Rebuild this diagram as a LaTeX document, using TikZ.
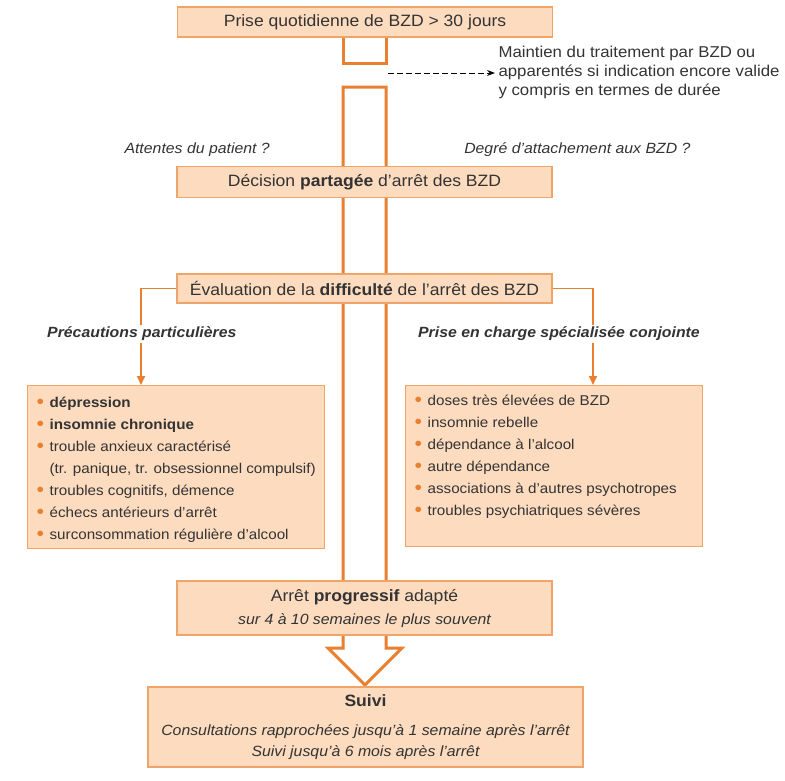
\documentclass[tikz,border=0pt]{standalone}
\usepackage{fontspec}
\setmainfont{Liberation Sans}[FakeStretch=1.07]
\usetikzlibrary{arrows.meta,positioning,calc}
\definecolor{bzdfill}{HTML}{FCDBBF}
\definecolor{bzdedge}{HTML}{F0A467}
\definecolor{bzdarrow}{HTML}{E8802F}
\definecolor{bzdtext}{HTML}{333333}
\newcommand{\puce}{\makebox[13pt][l]{\textcolor{bzdarrow}{\raisebox{-1pt}{\fontsize{20}{0}\selectfont\textbullet}}}}
\newcommand{\detail}[1]{{\fontsize{14.8}{18}\selectfont\itshape #1}}

\begin{document}
\begin{tikzpicture}[
    x=1pt,
    y=-1pt,
    stepbox/.style={
        rectangle,
        minimum width=375pt,
        inner sep=0pt,
        align=center,
        font=\fontsize{16.4}{20}\selectfont,
        text=bzdtext,
        fill=bzdfill,
        draw=bzdedge,
        line width=1.3pt
    },
    listbox/.style={
        rectangle,
        anchor=north west,
        minimum width=297pt,
        inner xsep=9pt,
        inner ysep=0pt,
        font=\fontsize{14.2}{22}\selectfont,
        text=bzdtext,
        fill=bzdfill,
        draw=bzdedge,
        line width=1.3pt
    },
    shaft/.style={
        draw=bzdarrow,
        line width=3pt,
        line join=miter
    },
    branch/.style={
        -{Triangle[length=9pt,width=8pt]},
        line width=1.8pt,
        draw=bzdarrow
    },
    note/.style={
        align=left,
        font=\fontsize{15.7}{19}\selectfont,
        text=bzdtext
    },
    question/.style={
        font=\fontsize{14.8}{18}\selectfont\itshape,
        text=bzdtext
    },
    branchlabel/.style={
        font=\fontsize{14.8}{18}\selectfont\bfseries\itshape,
        text=bzdtext,
        fill=white,
        inner sep=2pt
    }
]
\useasboundingbox (0,0) rectangle (785,780);

% Big orange arrow behind the boxes
\draw[shaft] (343,37) -- (343,63) -- (386,63) -- (386,37);
\draw[shaft] (343,648) -- (343,87) -- (386,87) -- (386,648)
    -- (402,648) -- (365,685) -- (328,648) -- cycle;

% Start
\node[stepbox, minimum height=30pt] (prise) at (365,22) {Prise quotidienne de BZD > 30 jours};

% Side note
\coordinate (dashstart) at (388,73);
\node[note, anchor=west] (maintien) at (495,72) {Maintien du traitement par BZD ou\\apparentés si indication encore valide\\y compris en termes de durée};
\draw[dashed, line width=1pt, dash pattern=on 6pt off 3pt, -{Stealth[length=8pt,width=6pt]}] (dashstart) -- (maintien.west |- dashstart);

% Questions
\node[question, anchor=west] (attentes) at (121,150) {Attentes du patient ?};
\node[question, anchor=east] (attachement) at (694,150) {Degré d’attachement aux BZD ?};

% Decision and evaluation
\node[stepbox, minimum height=31pt] (decision) at (364.5,182) {Décision \textbf{partagée} d’arrêt des BZD};
\node[stepbox, minimum height=29pt] (evaluation) at (364.5,288.5) {Évaluation de la \textbf{difficulté} de l’arrêt des BZD};

% Two branches
\node[listbox, minimum height=163pt] (precautions) at (27,385) {\parbox[t][141pt][t]{279pt}{%
\puce\textbf{dépression}\\
\puce\textbf{insomnie chronique}\\
\puce trouble anxieux caractérisé\\
\hspace*{13pt}(tr. panique, tr. obsessionnel compulsif)\\
\puce troubles cognitifs, démence\\
\puce échecs antérieurs d’arrêt\\
\puce surconsommation régulière d’alcool}};

\node[listbox, minimum height=161pt] (specialisee) at (405,385) {\parbox[t][143pt][t]{279pt}{%
\puce doses très élevées de BZD\\
\puce insomnie rebelle\\
\puce dépendance à l’alcool\\
\puce autre dépendance\\
\puce associations à d’autres psychotropes\\
\puce troubles psychiatriques sévères}};

\draw[branch] (evaluation.west) -| ($(precautions.north west)+(114,0)$);
\draw[branch] (evaluation.east) -| ($(specialisee.north west)+(188,0)$);

\node[branchlabel, anchor=west] (labelgauche) at (45,334) {Précautions particulières};
\node[branchlabel, anchor=east] (labeldroite) at (702,334) {Prise en charge spécialisée conjointe};

% Stop and follow-up
\node[stepbox, minimum height=54pt] (progressif) at (364.5,608) {Arrêt \textbf{progressif} adapté\\[3pt]\detail{sur 4 à 10 semaines le plus souvent}};

\node[stepbox, minimum width=435pt, minimum height=80pt] (suivi) at (365.5,727) {\textbf{Suivi}\\[9pt]\detail{Consultations rapprochées jusqu’à 1 semaine après l’arrêt}\\[1pt]\detail{Suivi jusqu’à 6 mois après l’arrêt}};

\end{tikzpicture}
\end{document}
